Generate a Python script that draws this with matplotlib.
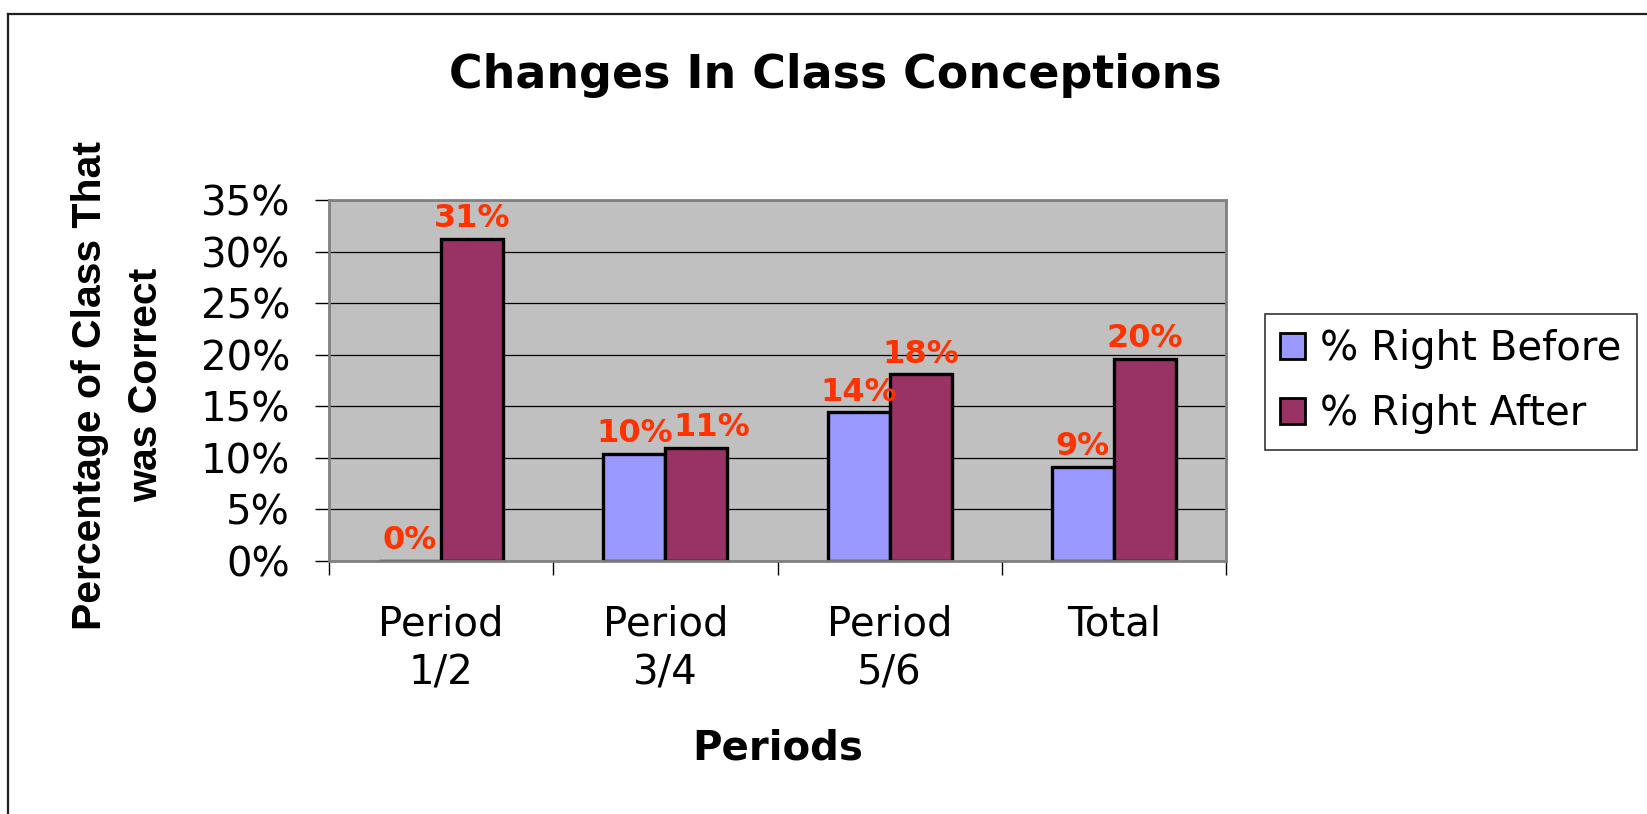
import matplotlib
matplotlib.use("Agg")
import matplotlib.pyplot as plt
import numpy as np
from matplotlib.ticker import PercentFormatter
from matplotlib.patches import Patch
from matplotlib.lines import Line2D

# ---- data ----
categories = ["Period\n1/2", "Period\n3/4", "Period\n5/6", "Total"]
series_names = ["% Right Before", "% Right After"]
right_before = [0.0, 10.4, 14.4, 9.1]
right_after = [31.2, 11.0, 18.1, 19.6]
yticks = [0, 5, 10, 15, 20, 25, 30, 35]
title = "Changes In Class Conceptions"
xlabel = "Periods"
ylabel = "Percentage of Class That\nwas Correct"

colors = ["#9999FF", "#993366"]
label_color = "#FF3300"

plt.rcParams["font.family"] = ["DejaVu Sans"]
arial_like = ["Liberation Sans", "DejaVu Sans"]

W, H = 1647, 814
fig = plt.figure(figsize=(W / 100, H / 100), dpi=100)
fig.patch.set_facecolor("white")

# plot area in pixel coords
L, R, T, B = 329, 1226, 200, 561
ax = fig.add_axes([L / W, 1 - B / H, (R - L) / W, (B - T) / H])
ax.set_facecolor("#C0C0C0")

x = np.arange(len(categories))
bw = 0.277
bars_b = ax.bar(x - bw / 2, right_before, bw, color=colors[0], edgecolor="black",
                linewidth=2.4, zorder=3)
bars_a = ax.bar(x + bw / 2, right_after, bw, color=colors[1], edgecolor="black",
                linewidth=2.4, zorder=3)

ax.set_xlim(-0.5, len(categories) - 0.5)
ax.set_ylim(0, 35)
ax.set_yticks(yticks)
ax.yaxis.set_major_formatter(PercentFormatter(xmax=100, decimals=0))
ax.yaxis.grid(True, color="black", linewidth=0.9, zorder=1)
ax.set_axisbelow(True)

ax.set_xticks(x)
ax.set_xticklabels(categories, fontsize=29, linespacing=1.3)
ax.set_xticks(np.arange(-0.5, len(categories), 1.0), minor=True)
ax.tick_params(axis="x", which="major", length=0, pad=31)
ax.tick_params(axis="x", which="minor", length=10, width=1, color="black", direction="out")
ax.tick_params(axis="y", which="major", length=10, width=1, color="black",
               direction="out", labelsize=29, pad=18)

for s in ax.spines.values():
    s.set_color("#808080")
    s.set_linewidth(2)
    s.set_zorder(4)

# data labels
label_sets = []
for bars, vals in ((bars_b, right_before), (bars_a, right_after)):
    texts = []
    for rect, v in zip(bars, vals):
        t = ax.annotate(f"{round(v)}%", (rect.get_x() + rect.get_width() / 2, v),
                        xytext=(0, 8.5), textcoords="offset points", ha="center",
                        va="baseline", fontsize=23, fontweight="bold",
                        color=label_color, zorder=5, annotation_clip=False)
        texts.append(t)
    label_sets.append(texts)

# nudge an "after" label right if it collides with its "before" label
fig.canvas.draw()
renderer = fig.canvas.get_renderer()
for tb, ta in zip(*label_sets):
    bb_b = tb.get_window_extent(renderer)
    bb_a = ta.get_window_extent(renderer)
    if bb_b.overlaps(bb_a):
        shift_px = bb_b.x1 - bb_a.x0 + 1
        ta.set_position((shift_px * 72 / fig.dpi, 8.5))

# titles
fig.text(835 / W, 1 - 88 / H, title, ha="center", va="baseline",
         fontsize=33, fontweight="bold")
fig.text(778 / W, 1 - 760 / H, xlabel, ha="center", va="baseline",
         fontsize=29, fontweight="bold")
fig.text(118 / W, 1 - 385 / H, ylabel, ha="center", va="center", rotation=90,
         multialignment="center", fontsize=29.5, fontweight="bold",
         family=arial_like, linespacing=1.62)

# legend
handles = [Patch(facecolor=colors[0], edgecolor="black", linewidth=2),
           Patch(facecolor=colors[1], edgecolor="black", linewidth=2)]
leg = fig.legend(handles, series_names, loc="upper left",
                 bbox_to_anchor=(1265 / W, 1 - 314 / H), borderaxespad=0,
                 fontsize=29, frameon=True, fancybox=False, shadow=False,
                 handlelength=0.62, handleheight=0.62, handletextpad=0.37,
                 labelspacing=0.62, borderpad=0.38)
leg.get_frame().set_edgecolor("black")
leg.get_frame().set_linewidth(1.2)

# outer chart border (top and left visible)
fig.add_artist(Line2D([8 / W, 1.0], [1 - 13.5 / H, 1 - 13.5 / H],
                      transform=fig.transFigure, color="#202020", linewidth=1.6))
fig.add_artist(Line2D([8 / W, 8 / W], [1 - 13.5 / H, 0.0],
                      transform=fig.transFigure, color="#202020", linewidth=1.6))

fig.savefig("out.png", dpi=100)
